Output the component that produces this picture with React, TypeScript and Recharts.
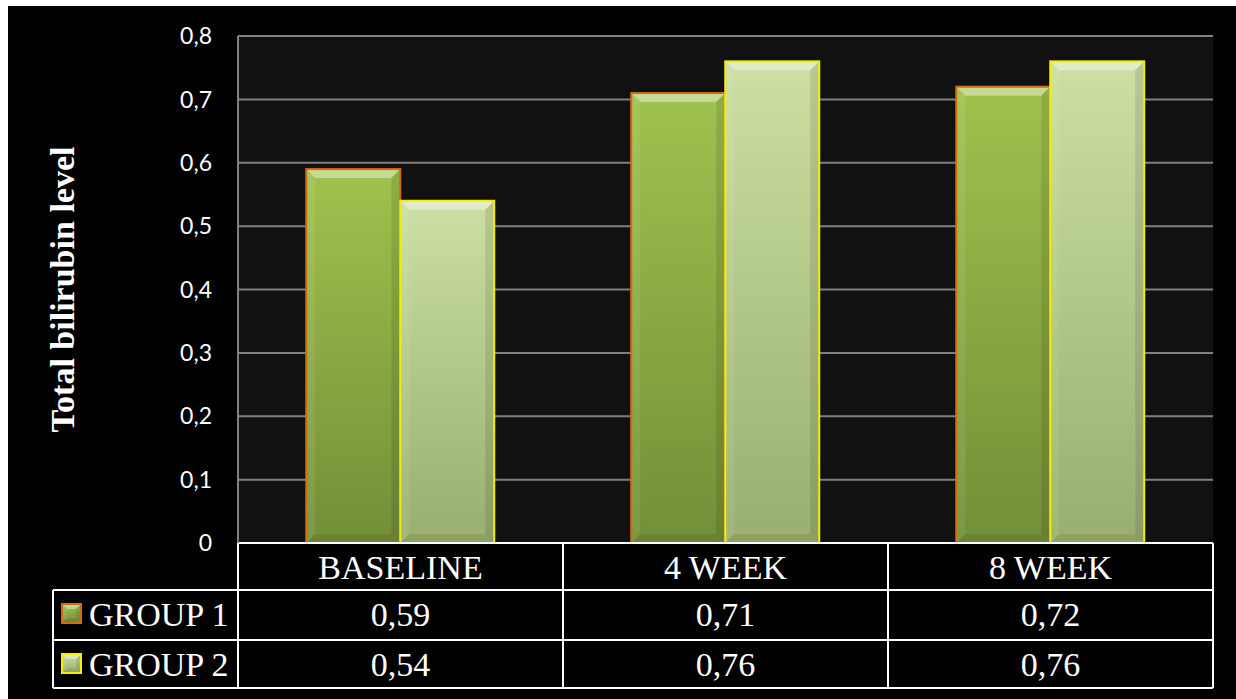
import React from 'react';
import { BarChart, Bar, XAxis, YAxis, CartesianGrid, Label } from 'recharts';

// chart values
const categories = ['BASELINE', '4 WEEK', '8 WEEK'];
const group1 = [0.59, 0.71, 0.72];
const group2 = [0.54, 0.76, 0.76];
const seriesNames = ['GROUP 1', 'GROUP 2'];
const yTicks = [0, 0.1, 0.2, 0.3, 0.4, 0.5, 0.6, 0.7, 0.8];

const data = categories.map((name, i) => ({ name, g1: group1[i], g2: group2[i] }));

const W = 1228;
const H = 693;
const MARGIN = { top: 30, right: 23, bottom: 0, left: 0 };
const Y_AXIS_W = 230;
const X_AXIS_H = 156;
const PLOT_W = W - MARGIN.left - MARGIN.right - Y_AXIS_W;
const COL_W = PLOT_W / categories.length;
const LEGEND_W = 185;
const ROWS = [47, 50, 48];

const serif = '"Liberation Serif", "Times New Roman", serif';
const comma = (v: number) => String(v).replace('.', ',');

const styles = [
  { grad: 'g1', stroke: '#d9690f', top: '#a0c24e', bottom: '#728f37' },
  { grad: 'g2', stroke: '#f2f000', top: '#cbe0a2', bottom: '#98af6f' },
];

// bevelled box, like the office "soft edge" bars
const bevel = (x: number, y: number, w: number, h: number, b: number, grad: string, stroke: string) => {
  if (h <= 0 || w <= 0) return null;
  const bb = Math.min(b, w / 2, h / 2);
  return (
    <g>
      <rect x={x} y={y} width={w} height={h} fill={`url(#${grad})`} />
      <polygon points={`${x},${y} ${x + w},${y} ${x + w - bb},${y + bb} ${x + bb},${y + bb}`} fill="#fff" fillOpacity={0.4} />
      <polygon points={`${x},${y} ${x + bb},${y + bb} ${x + bb},${y + h - bb} ${x},${y + h}`} fill="#fff" fillOpacity={0.08} />
      <polygon points={`${x + w},${y} ${x + w},${y + h} ${x + w - bb},${y + h - bb} ${x + w - bb},${y + bb}`} fill="#000" fillOpacity={0.1} />
      <polygon points={`${x},${y + h} ${x + w},${y + h} ${x + w - bb},${y + h - bb} ${x + bb},${y + h - bb}`} fill="#000" fillOpacity={0.08} />
      <rect x={x} y={y} width={w} height={h} fill="none" stroke={stroke} strokeWidth={2} />
    </g>
  );
};

const makeShape = (s: number) => (props: any) => {
  const { x, y, width, height } = props;
  return bevel(x, y, width, height, 9, styles[s].grad, styles[s].stroke);
};

// x axis tick draws the data table below the plot
const TableTick = (props: any) => {
  const { x, y, payload, index } = props;
  const i = payload && typeof payload.index === 'number' ? payload.index : index;
  const left = x - COL_W / 2;
  const r1 = y + ROWS[0];
  const r2 = r1 + ROWS[1];
  const r3 = r2 + ROWS[2];
  const line = { stroke: '#fff', strokeWidth: 2 };
  const txt = { fill: '#fff', fontFamily: serif, fontSize: 34, textAnchor: 'middle' as const };
  return (
    <g>
      <line x1={left} y1={y} x2={left} y2={r3} {...line} />
      <line x1={left + COL_W} y1={y} x2={left + COL_W} y2={r3} {...line} />
      <line x1={left} y1={r1} x2={left + COL_W} y2={r1} {...line} />
      <line x1={left} y1={r2} x2={left + COL_W} y2={r2} {...line} />
      <line x1={left} y1={r3} x2={left + COL_W} y2={r3} {...line} />
      <text x={x} y={y + 36} {...txt}>{payload.value}</text>
      <text x={x} y={r1 + 36} {...txt}>{comma(group1[i])}</text>
      <text x={x} y={r2 + 36} {...txt}>{comma(group2[i])}</text>
      {i === 0 && (
        <g>
          <line x1={left - LEGEND_W} y1={r1} x2={left} y2={r1} {...line} />
          <line x1={left - LEGEND_W} y1={r2} x2={left} y2={r2} {...line} />
          <line x1={left - LEGEND_W} y1={r3} x2={left} y2={r3} {...line} />
          <line x1={left - LEGEND_W} y1={r1} x2={left - LEGEND_W} y2={r3} {...line} />
          {seriesNames.map((n, k) => {
            const ry = k === 0 ? r1 : r2;
            return (
              <g key={n}>
                {bevel(left - LEGEND_W + 9, ry + 14, 19, 19, 5, styles[k].grad, styles[k].stroke)}
                <text x={left - LEGEND_W + 36} y={ry + 36} fill="#fff" fontFamily={serif} fontSize={34}>{n}</text>
              </g>
            );
          })}
        </g>
      )}
    </g>
  );
};

export default function App() {
  return (
    <div style={{ position: 'absolute', left: 8, top: 6, width: W, height: H, background: '#000' }}>
      <BarChart width={W} height={H} data={data} margin={MARGIN} barCategoryGap="21%" barGap={0}>
        <defs>
          {styles.map((s) => (
            <linearGradient key={s.grad} id={s.grad} x1="0" y1="0" x2="0" y2="1">
              <stop offset="0%" stopColor={s.top} />
              <stop offset="100%" stopColor={s.bottom} />
            </linearGradient>
          ))}
        </defs>
        <CartesianGrid vertical={false} fill="#111111" stroke="#808080" strokeWidth={2} />
        <XAxis
          dataKey="name"
          height={X_AXIS_H}
          interval={0}
          tickLine={false}
          tickSize={0}
          tickMargin={0}
          axisLine={{ stroke: '#fff', strokeWidth: 2 }}
          tick={<TableTick />}
        />
        <YAxis
          width={Y_AXIS_W}
          domain={[0, 0.8]}
          ticks={yTicks}
          tickFormatter={(v: number) => comma(v)}
          tickLine={false}
          tickSize={0}
          tickMargin={26}
          axisLine={{ stroke: '#808080', strokeWidth: 2 }}
          tick={{ fill: '#fff', fontSize: 23, fontFamily: 'Lato, "Open Sans", sans-serif' }}
        >
          <Label
            content={(p: any) => {
              const vb = p.viewBox || { y: 30, height: 507 };
              const cy = vb.y + vb.height / 2;
              return (
                <text
                  x={54}
                  y={cy}
                  transform={`rotate(-90, 54, ${cy})`}
                  textAnchor="middle"
                  dominantBaseline="central"
                  fill="#fff"
                  fontFamily={serif}
                  fontWeight="bold"
                  fontSize={34}
                >
                  Total bilirubin level
                </text>
              );
            }}
          />
        </YAxis>
        <Bar dataKey="g1" name={seriesNames[0]} isAnimationActive={false} shape={makeShape(0)} />
        <Bar dataKey="g2" name={seriesNames[1]} isAnimationActive={false} shape={makeShape(1)} />
      </BarChart>
    </div>
  );
}
